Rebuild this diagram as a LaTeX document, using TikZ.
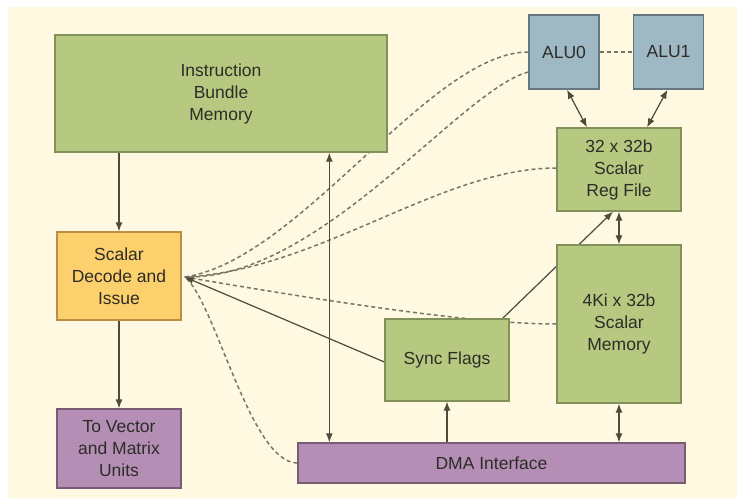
\documentclass[tikz,border=0pt]{standalone}
\usepackage{fontspec}
\setmainfont{Liberation Sans}
\usepackage{tikz}
\usetikzlibrary{arrows.meta}
\usetikzlibrary{calc}
\pgfdeclarelayer{background}
\pgfsetlayers{background,main}

\definecolor{cream}{RGB}{254,249,224}
\definecolor{boxgreen}{RGB}{183,201,128}
\definecolor{edgegreen}{RGB}{130,145,90}
\definecolor{boxorange}{RGB}{252,208,108}
\definecolor{edgeorange}{RGB}{185,145,70}
\definecolor{boxpurple}{RGB}{180,142,180}
\definecolor{edgepurple}{RGB}{120,92,115}
\definecolor{boxblue}{RGB}{158,184,196}
\definecolor{edgeblue}{RGB}{100,120,130}
\definecolor{wire}{RGB}{75,75,62}
\definecolor{dashwire}{RGB}{120,118,100}
\definecolor{label}{RGB}{45,45,40}

\begin{document}
\begin{tikzpicture}[x=1pt,y=-1pt,>={Latex[length=9pt,width=7pt]},
    unit/.style={draw=edgegreen,fill=boxgreen,line width=1.3pt,align=center,
        inner sep=0pt,text=label,font=\fontsize{17.5}{22}\selectfont},
    decode/.style={unit,draw=edgeorange,fill=boxorange},
    port/.style={unit,draw=edgepurple,fill=boxpurple},
    alu/.style={unit,draw=edgeblue,fill=boxblue},
    wire/.style={draw=wire,line width=1.2pt},
    ctrl/.style={draw=dashwire,line width=1.5pt,dash pattern=on 4pt off 3pt}]

    % Page and backdrop
    \useasboundingbox (0,0) rectangle (737,501);
    \begin{pgfonlayer}{background}
    \fill[cream] (8,7) rectangle (737,498);
    \end{pgfonlayer}

    % Blocks
    \node[unit,minimum width=332pt,minimum height=117pt] (ibm) at (221,93.5)
        {Instruction\\Bundle\\Memory};
    \node[decode,minimum width=124pt,minimum height=88pt] (sdi) at (119,276)
        {Scalar\\Decode and\\Issue};
    \node[port,minimum width=124pt,minimum height=79pt] (tvm) at (119,448.5)
        {To Vector\\and Matrix\\Units};
    \node[port,minimum width=387pt,minimum height=40pt] (dma) at (491.5,463)
        {DMA Interface};
    \node[unit,minimum width=124pt,minimum height=82pt] (sync) at (447,360)
        {Sync Flags};
    \node[unit,minimum width=124pt,minimum height=158pt] (smem) at (619,324)
        {4Ki x 32b\\Scalar\\Memory};
    \node[unit,minimum width=124pt,minimum height=83pt] (reg) at (619,169.5)
        {32 x 32b\\Scalar\\Reg File};
    \node[alu,minimum width=70pt,minimum height=74pt] (alu0) at (564,52) {ALU0};
    \node[alu,minimum width=70pt,minimum height=74pt] (alu1) at (668.5,52) {ALU1};

    % Meeting point of the control lines
    \coordinate (tip) at ([xshift=3pt,yshift=-1pt]sdi.east);

    \begin{pgfonlayer}{background}
    % Control lines (dashed)
    \draw[ctrl] (alu0.east) -- (alu1.west);
    \draw[ctrl] (alu0.west) .. controls (430,52) and (300,260) .. (tip);
    \draw[ctrl] ([yshift=-20pt]alu0.west) .. controls (460,90) and (320,280) .. (tip);
    \draw[ctrl] ([yshift=1.5pt]reg.west) .. controls (440,168) and (320,270) .. (tip);
    \draw[ctrl] (smem.west) .. controls (470,324) and (320,300) .. (tip);
    \draw[ctrl] (dma.west) .. controls (250,463) and (215,300) .. (tip);

    % Data paths
    \draw[wire,->] (sdi.north |- ibm.south) -- (sdi.north);
    \draw[wire,->] (sdi.south) -- (tvm.north);
    \draw[wire,<->] ([xshift=32pt]dma.north west |- ibm.south) -- ([xshift=32pt]dma.north west);
    \draw[wire,<->] ([xshift=3pt]alu0.south) -- ([xshift=-32pt]reg.north);
    \draw[wire,<->] ([xshift=-1pt]alu1.south) -- ([xshift=28pt]reg.north);
    \draw[wire,<->] (reg.south) -- (smem.north);
    \draw[wire,<->] (smem.south) -- (smem.south |- dma.north);
    \draw[wire,->] (sync.south |- dma.north) -- (sync.south);
    \draw[wire,->] ([yshift=-2pt]sync.west) -- (tip);
    \draw[wire,->] ([xshift=-7pt]sync.north east) -- ([xshift=-6pt]reg.south);
    \end{pgfonlayer}

\end{tikzpicture}
\end{document}
